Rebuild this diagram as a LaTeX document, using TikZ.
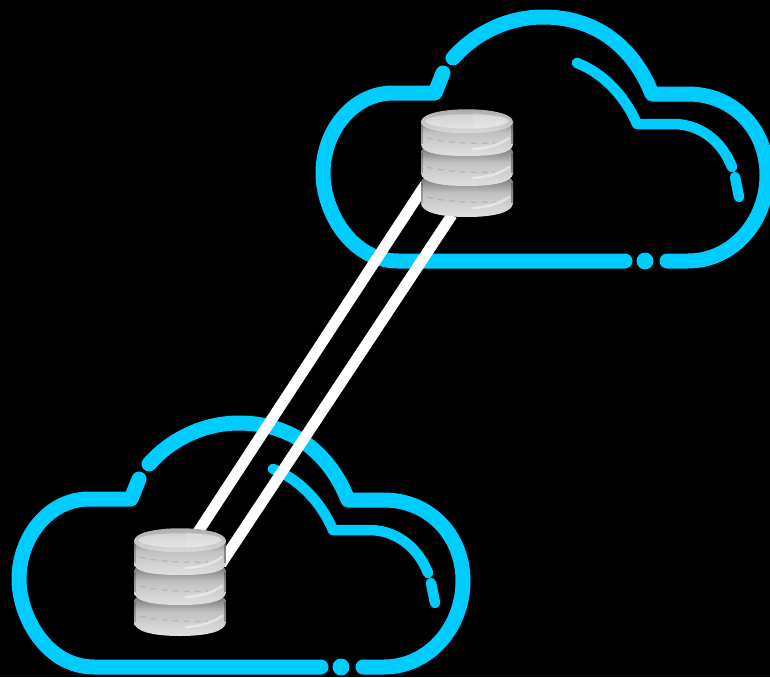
\documentclass[tikz,border=0pt]{standalone}
\definecolor{cloudblue}{HTML}{00CCFF}
\tikzset{
  x=1pt,y=-1pt,
  outer/.style={draw=cloudblue,line width=15pt,line cap=round,line join=round},
  innerline/.style={draw=cloudblue,line width=10.5pt,line cap=round,line join=round},
  wirelink/.style={draw=white,line width=11pt},
  discbody/.style={top color=black!70,bottom color=black!12,middle color=black!24},
  pics/cloudshape/.style={code={
    \fill[cloudblue] (322,0) circle (8.5pt);
    \path[outer] (344,0) -- (365,0) .. controls (410,0) and (444,-40) .. (444,-86)
      .. controls (444,-132) and (410,-167) .. (365,-167) -- (329,-167)
      .. controls (310,-215) and (272,-244) .. (220,-244)
      .. controls (185,-244) and (152,-228) .. (130,-203);
    \path[outer] (120,-188) -- (112,-168) -- (70,-168)
      .. controls (30,-168) and (0,-130) .. (0,-88)
      .. controls (0,-50) and (28,0) .. (75,0) -- (302,0);
    \path[innerline] (254,-198) .. controls (280,-188) and (302,-165) .. (314,-137)
      -- (350,-137) .. controls (375,-137) and (398,-122) .. (409,-94);
    \path[innerline] (412,-84) -- (416,-64);
  }},
  pics/dbshape/.style={code={
    \foreach \t/\s/\b in {60/94/108,30/64/77,0/35/47}{
      \path[discbody] (-46,\t+13) .. controls (-46,\t) and (46,\t) .. (46,\t+13)
        -- (46,\s) .. controls (46,\s+9) and (28,\b) .. (0,\b)
        .. controls (-28,\b) and (-46,\s+9) .. (-46,\s) -- cycle;
      \draw[white,opacity=.45,line width=2.5pt,line cap=round] (6,\s+5) .. controls (22,\s+4) and (34,\s) .. (42,\s-6);
      \draw[black!45,opacity=.35,line width=1.2pt,dash pattern=on 6pt off 5pt] (-40,\s-6) .. controls (-25,\s-2) and (0,\s) .. (28,\s-1);
      \draw[black,opacity=.22,line width=2pt] (-45,\t+14) -- (-45,\s);
      \draw[black,opacity=.3,line width=2pt] (45,\t+14) -- (45,\s);
    }
    \path[top color=black!35,bottom color=black!12] (-46,13) .. controls (-46,-4) and (46,-4) .. (46,13)
      .. controls (46,28) and (-46,28) .. (-46,13) -- cycle;
    \path[fill=white,opacity=.4] (-42,12) .. controls (-38,3) and (38,3) .. (42,12)
      .. controls (38,22) and (-38,22) .. (-42,12) -- cycle;
    \path[fill=white,opacity=.15] (6,4) -- (38,8) .. controls (42,12) and (38,18) .. (6,20) -- cycle;
  }}
}
\begin{document}
\begin{tikzpicture}
\useasboundingbox (0,0) rectangle (770,677);
\fill[black] (0,0) rectangle (770,677);
\begin{scope}
\clip (0,0) rectangle (770,677);
\pic at (323,261) {cloudshape};
\pic at (19,667) {cloudshape};
\coordinate (ua) at (425,185);
\coordinate (ub) at (452,215);
\coordinate (la) at (198,532);
\coordinate (lb) at (221,564);
\path[wirelink] (ua) -- (la);
\path[wirelink] (ub) -- (lb);
\pic at (467,109) {dbshape};
\pic at (180,528) {dbshape};
\end{scope}
\end{tikzpicture}
\end{document}
